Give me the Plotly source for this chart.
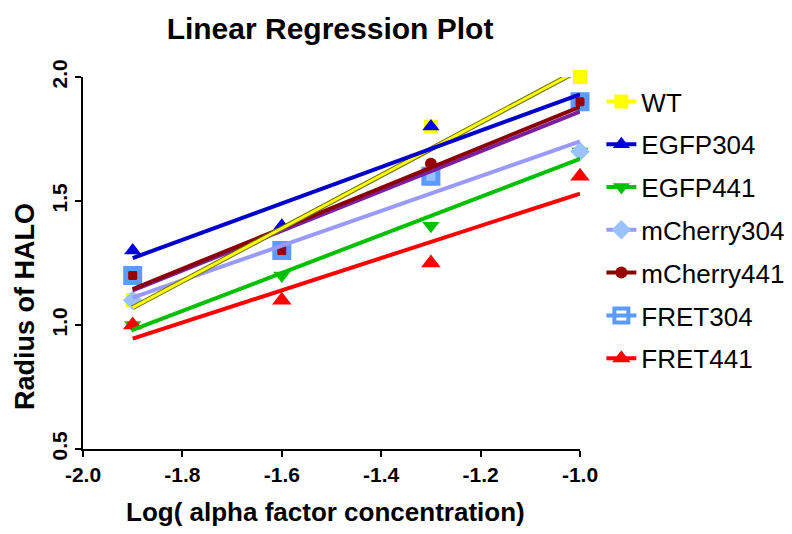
import numpy as np
import plotly.graph_objects as go

x_vals = [-1.9, -1.6, -1.3, -1.0]
names = ["WT", "EGFP304", "EGFP441", "mCherry304", "mCherry441", "FRET304", "FRET441"]
wt = [1.10, 1.30, 1.80, 2.00]
egfp304 = [1.30, 1.40, 1.80, 1.90]
egfp441 = [1.00, 1.20, 1.40, 1.70]
mcherry304 = [1.10, 1.30, 1.60, 1.70]
mcherry441 = [1.20, 1.30, 1.65, 1.90]
fret304 = [1.20, 1.30, 1.60, 1.90]
fret441 = [1.00, 1.10, 1.25, 1.60]
series = [wt, egfp304, egfp441, mcherry304, mcherry441, fret304, fret441]

marker_colors = ["#FFFF00", "#0000E0", "#00C000", "#99C2FF", "#990000", "#5B9BFF", "#FF0000"]
line_colors = ["#FFFF00", "#0000CC", "#00C000", "#9999FF", "#8B0000", "#7A1FA2", "#FF0000"]
legend_line_colors = ["#FFFF00", "#0000CC", "#00C000", "#9999FF", "#8B0000", "#5B9BFF", "#FF0000"]
symbols = ["square", "triangle-up", "triangle-down", "diamond", "circle", "square-open", "triangle-up"]
sizes = [14, 15, 15, 15, 12, 14, 17]

fig = go.Figure()

# markers
for i, (n, y) in enumerate(zip(names, series)):
    mk = dict(symbol=symbols[i], size=sizes[i], color=marker_colors[i])
    if symbols[i] == "square-open":
        mk["line"] = dict(width=5, color=marker_colors[i])
    else:
        mk["line"] = dict(width=0)
    fig.add_trace(go.Scatter(x=x_vals, y=y, mode="markers", marker=mk,
                             showlegend=False, cliponaxis=False, hoverinfo="skip"))

# regression lines
xa = np.array(x_vals)
fit_x = [min(x_vals), max(x_vals)]
order = [6, 2, 3, 5, 4, 0, 1]
for i in order:
    y = np.array(series[i])
    slope, intercept = np.polyfit(xa, y, 1)
    fy = [slope * fit_x[0] + intercept, slope * fit_x[1] + intercept]
    if i == 0:
        fig.add_trace(go.Scatter(x=fit_x, y=fy, mode="lines",
                                 line=dict(color="#6B6B00", width=5),
                                 showlegend=False, cliponaxis=False, hoverinfo="skip"))
        fig.add_trace(go.Scatter(x=fit_x, y=fy, mode="lines",
                                 line=dict(color="#FFFF00", width=3),
                                 showlegend=False, cliponaxis=False, hoverinfo="skip"))
    else:
        fig.add_trace(go.Scatter(x=fit_x, y=fy, mode="lines",
                                 line=dict(color=line_colors[i], width=4),
                                 showlegend=False, cliponaxis=False, hoverinfo="skip"))

# legend entries
for i, n in enumerate(names):
    mk = dict(symbol=symbols[i], size=sizes[i], color=marker_colors[i])
    if symbols[i] == "square-open":
        mk["line"] = dict(width=4, color=marker_colors[i])
    fig.add_trace(go.Scatter(x=[None], y=[None], mode="lines+markers", name=n,
                             legendgroup=n, marker=mk,
                             line=dict(color=legend_line_colors[i], width=4)))

fig.update_layout(
    width=792, height=534,
    plot_bgcolor="white", paper_bgcolor="white",
    margin=dict(l=83, r=212, t=77, b=85, autoexpand=False),
    title=dict(text="<b>Linear Regression Plot</b>", x=(330) / 792, xanchor="center",
               y=1 - 28 / 534, yanchor="middle",
               font=dict(family="Liberation Sans, Arial", size=30, color="black")),
    font=dict(family="Liberation Sans, Arial", color="black"),
    legend=dict(x=1.043, xanchor="left", y=(449 - 78) / 372, yanchor="top",
                font=dict(size=26, color="black"), tracegroupgap=6,
                itemwidth=30, bgcolor="rgba(0,0,0,0)"),
    xaxis=dict(range=[-2.0, -1.0], tickvals=[-2.0, -1.8, -1.6, -1.4, -1.2, -1.0],
               ticktext=["<b>-2.0</b>", "<b>-1.8</b>", "<b>-1.6</b>", "<b>-1.4</b>", "<b>-1.2</b>", "<b>-1.0</b>"],
               showgrid=False, zeroline=False, showline=True, linecolor="black", linewidth=2,
               ticks="outside", ticklen=6, tickwidth=2, tickcolor="black",
               tickfont=dict(size=21)),
    yaxis=dict(range=[0.5, 2.0], tickvals=[0.5, 1.0, 1.5, 2.0],
               ticktext=["<b>0.5</b>", "<b>1.0</b>", "<b>1.5</b>", "<b>2.0</b>"],
               tickangle=-90,
               showgrid=False, zeroline=False, showline=True, linecolor="black", linewidth=2,
               ticks="outside", ticklen=6, tickwidth=2, tickcolor="black",
               tickfont=dict(size=21)),
    annotations=[
        dict(text="<b>Log( alpha factor concentration)</b>", xref="paper", yref="paper",
             x=(325 - 83) / 497, y=-(512 - 449) / 372, xanchor="center", yanchor="middle",
             showarrow=False, font=dict(size=26, color="black")),
        dict(text="<b>Radius of HALO</b>", xref="paper", yref="paper",
             x=-(83 - 25) / 497, y=(449 - 307) / 372, xanchor="center", yanchor="middle",
             textangle=-90, showarrow=False, font=dict(size=27, color="black")),
    ],
)

fig.write_html("out.html")
